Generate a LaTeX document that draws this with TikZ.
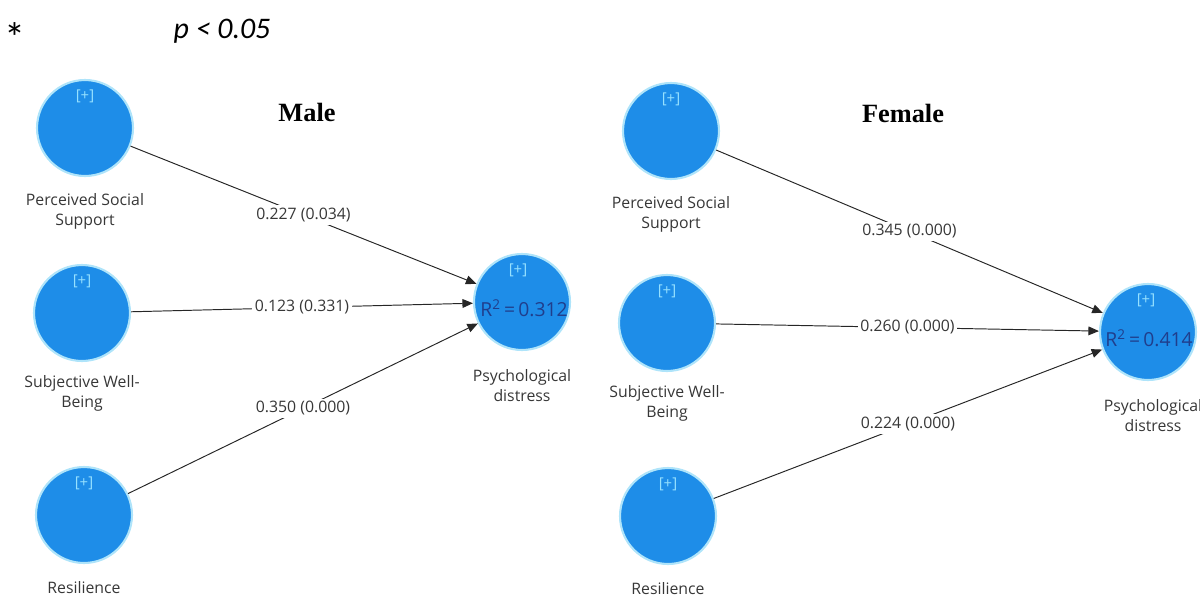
\documentclass[tikz,border=0pt]{standalone}
\usepackage{fontspec}
\setmainfont{Open Sans}
\newfontfamily\calfont{Carlito}
\newfontfamily\titlefont{Liberation Serif}
\usetikzlibrary{calc}
\usetikzlibrary{positioning}
\usetikzlibrary{arrows.meta}

\definecolor{lvblue}{RGB}{30,141,232}
\definecolor{lvglow}{RGB}{175,228,250}
\definecolor{plusblue}{RGB}{150,225,255}
\definecolor{rsqblue}{RGB}{32,62,140}
\definecolor{txtgray}{RGB}{55,55,55}

\tikzset{
    latent/.style={circle, fill=lvblue, draw=lvglow, line width=1.2pt, minimum size=1.92cm, inner sep=0pt},
    plustag/.style={text=plusblue, font=\fontsize{8.5}{10}\selectfont, inner sep=0pt},
    rsq/.style={text=rsqblue, font=\fontsize{11}{13}\selectfont, inner sep=0pt},
    lvname/.style={text=txtgray, align=center, font=\fontsize{9}{11.3}\selectfont, inner sep=0pt},
    path/.style={draw=black!85, line width=0.55pt, -{Triangle[length=6pt, width=5pt]}},
    coef/.style={text=txtgray, fill=white, midway, inner sep=1.5pt, font=\fontsize{9}{11}\selectfont},
    grouptitle/.style={font=\titlefont\bfseries\fontsize{15}{18}\selectfont}
}

\begin{document}
\begin{tikzpicture}[x=0.02cm, y=-0.02cm]
    \useasboundingbox (0,0) rectangle (1200,599);

    % significance note
    \node[font=\calfont\fontsize{24}{26}\selectfont] (star) at (15,38) {*};
    \node[font=\calfont\itshape\fontsize{17}{20}\selectfont] (sig) at (222,31) {p < 0.05};

    % group titles
    \node[grouptitle] (male) at (307,112) {Male};
    \node[grouptitle] (female) at (903,113) {Female};

    % male model
    \node[latent] (mpss) at (85,128) {};
    \node[latent] (mswb) at (82,313) {};
    \node[latent] (mres) at (84,515) {};
    \node[latent] (mpd) at (522,302) {};

    \node[plustag] (mpssp) at ($(mpss.center)+(0,-32)$) {[+]};
    \node[plustag] (mswbp) at ($(mswb.center)+(0,-32)$) {[+]};
    \node[plustag] (mresp) at ($(mres.center)+(0,-32)$) {[+]};
    \node[plustag] (mpdp) at ($(mpd.center)+(-4,-32)$) {[+]};
    \node[rsq] (mpdr) at ($(mpd.center)+(2,6)$) {R\textsuperscript{2}\,=\,0.312};

    \node[lvname, below=0.32cm of mpss] (mpssl) {Perceived Social\\Support};
    \node[lvname, below=0.26cm of mswb] (mswbl) {Subjective Well-\\Being};
    \node[lvname, below=0.34cm of mres] (mresl) {Resilience};
    \node[lvname, below=0.36cm of mpd] (mpdl) {Psychological\\distress};

    \draw[path] (mpss) -- node[coef] {0.227 (0.034)} (mpd);
    \draw[path] (mswb) -- node[coef] {0.123 (0.331)} (mpd);
    \draw[path] (mres) -- node[coef] {0.350 (0.000)} (mpd);

    % female model
    \node[latent] (fpss) at (671,131) {};
    \node[latent] (fswb) at (667,323) {};
    \node[latent] (fres) at (668,516) {};
    \node[latent] (fpd) at (1148,332) {};

    \node[plustag] (fpssp) at ($(fpss.center)+(0,-32)$) {[+]};
    \node[plustag] (fswbp) at ($(fswb.center)+(0,-32)$) {[+]};
    \node[plustag] (fresp) at ($(fres.center)+(0,-32)$) {[+]};
    \node[plustag] (fpdp) at ($(fpd.center)+(-2,-32)$) {[+]};
    \node[rsq] (fpdr) at ($(fpd.center)+(1,6)$) {R\textsuperscript{2}\,=\,0.414};

    \node[lvname, below=0.32cm of fpss] (fpssl) {Perceived Social\\Support};
    \node[lvname, below=0.26cm of fswb] (fswbl) {Subjective Well-\\Being};
    \node[lvname, below=0.34cm of fres] (fresl) {Resilience};
    \node[lvname, below=0.36cm of fpd, xshift=0.1cm] (fpdl) {Psychological\\distress};

    \draw[path] (fpss) -- node[coef] {0.345 (0.000)} (fpd);
    \draw[path] (fswb) -- node[coef] {0.260 (0.000)} (fpd);
    \draw[path] (fres) -- node[coef] {0.224 (0.000)} (fpd);

\end{tikzpicture}
\end{document}
